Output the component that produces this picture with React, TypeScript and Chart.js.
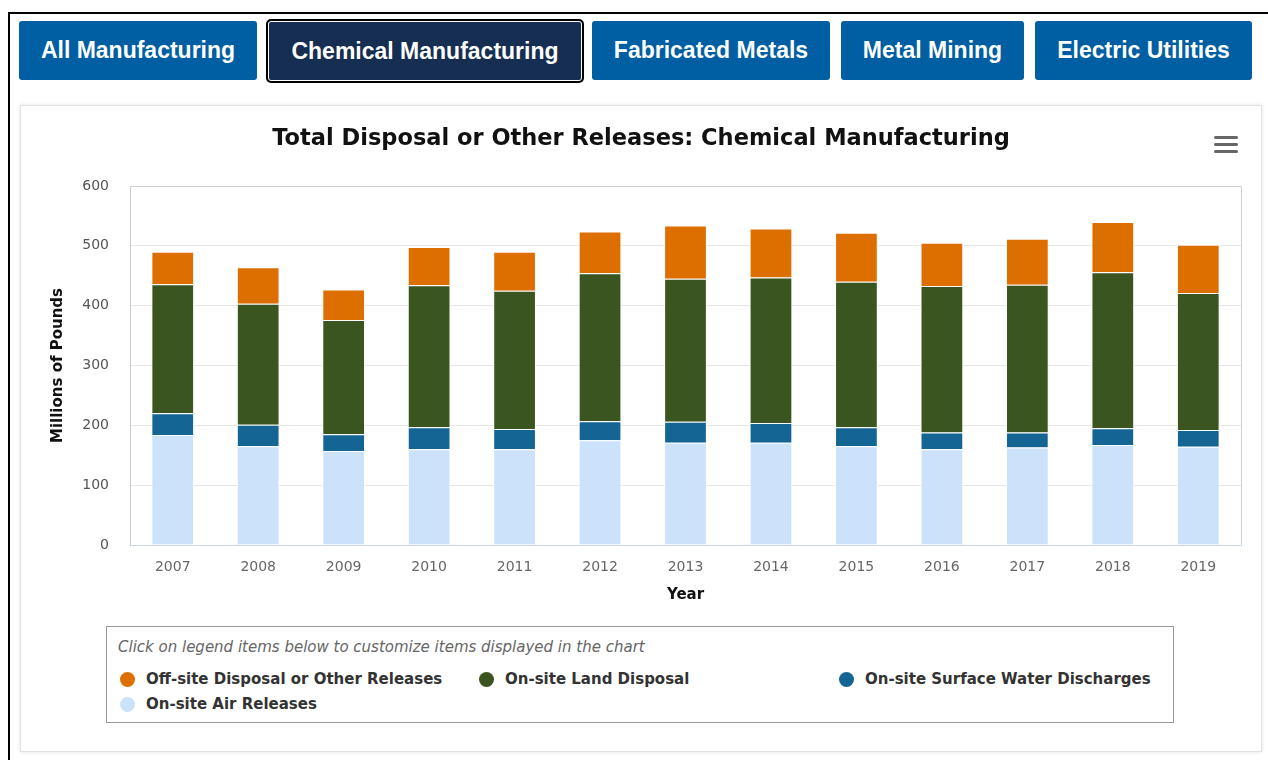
import React, { useEffect, useRef } from "react";
import { Chart, registerables } from "chart.js";

Chart.register(...registerables);

const years = ["2007", "2008", "2009", "2010", "2011", "2012", "2013", "2014", "2015", "2016", "2017", "2018", "2019"];
const offSiteDisposal = [54, 61, 51, 64, 65, 70, 89, 82, 82, 72, 77, 84, 81];
const onSiteLandDisposal = [216, 202, 191, 237, 231, 247, 239, 243, 243, 245, 247, 261, 229];
const onSiteSurfaceWater = [36, 36, 28, 37, 34, 32, 35, 33, 32, 28, 25, 28, 28];
const onSiteAirReleases = [184, 165, 157, 160, 160, 175, 171, 171, 165, 160, 163, 167, 164];

const seriesNames = [
  "Off-site Disposal or Other Releases",
  "On-site Land Disposal",
  "On-site Surface Water Discharges",
  "On-site Air Releases",
];
const seriesColors = ["#dd6e00", "#3a5520", "#146494", "#cbe2fa"];
const seriesData = [offSiteDisposal, onSiteLandDisposal, onSiteSurfaceWater, onSiteAirReleases];

const buttons = [
  { label: "All Manufacturing", left: 19, width: 238, selected: false },
  { label: "Chemical Manufacturing", left: 266, width: 318, selected: true },
  { label: "Fabricated Metals", left: 592, width: 238, selected: false },
  { label: "Metal Mining", left: 841, width: 183, selected: false },
  { label: "Electric Utilities", left: 1035, width: 217, selected: false },
];

const TICK_FONT = "'DejaVu Sans', sans-serif";

const plotBorder = {
  id: "plotBorder",
  beforeDatasetsDraw(chart: any) {
    const { ctx, chartArea } = chart;
    ctx.save();
    ctx.strokeStyle = "#d0d0d0";
    ctx.lineWidth = 1;
    ctx.beginPath();
    ctx.moveTo(chartArea.left, chartArea.top + 0.5);
    ctx.lineTo(chartArea.right + 0.5, chartArea.top + 0.5);
    ctx.lineTo(chartArea.right + 0.5, chartArea.bottom);
    ctx.stroke();
    ctx.restore();
  },
};

export default function App() {
  const canvasRef = useRef<HTMLCanvasElement | null>(null);

  useEffect(() => {
    if (!canvasRef.current) return;
    // stack bottom-to-top: air, water, land, off-site
    const order = [3, 2, 1, 0];
    const chart = new Chart(canvasRef.current, {
      type: "bar",
      data: {
        labels: years,
        datasets: order.map((i) => ({
          label: seriesNames[i],
          data: seriesData[i],
          backgroundColor: seriesColors[i],
          borderColor: "#ffffff",
          borderWidth: 1,
          categoryPercentage: 1,
          barPercentage: 0.5,
        })),
      },
      options: {
        responsive: false,
        animation: false,
        layout: { padding: { left: 20, right: 20, top: 0, bottom: 0 } },
        plugins: {
          legend: { display: false },
          tooltip: { enabled: false },
          title: {
            display: true,
            text: "Total Disposal or Other Releases: Chemical Manufacturing",
            color: "#111",
            font: { family: TICK_FONT, size: 22.5, weight: "bold" },
            padding: { top: 20, bottom: 33 },
          },
        },
        scales: {
          x: {
            stacked: true,
            grid: { display: false, drawTicks: false },
            border: { display: true, color: "#ccd6eb", width: 1 },
            ticks: { color: "#666", font: { family: TICK_FONT, size: 14 }, padding: 14 },
            title: {
              display: true,
              text: "Year",
              color: "#111",
              font: { family: TICK_FONT, size: 15, weight: "bold" },
              padding: { top: 0, bottom: 7 },
            },
            afterFit(scale: any) {
              scale.height = 66;
            },
          },
          y: {
            stacked: true,
            min: 0,
            max: 600,
            ticks: { stepSize: 100, color: "#555", font: { family: TICK_FONT, size: 14 }, padding: 21 },
            grid: { color: "#e6e6e6", drawTicks: false },
            border: { display: true, color: "#cccccc", width: 1 },
            title: {
              display: true,
              text: "Millions of Pounds",
              color: "#111",
              font: { family: TICK_FONT, size: 15, weight: "bold" },
              padding: { top: 8, bottom: 0 },
            },
            afterFit(scale: any) {
              scale.width = 89;
            },
          },
        },
      },
      plugins: [plotBorder],
    });
    return () => chart.destroy();
  }, []);

  const legendOrder = [0, 1, 2, 3];
  const legendPos = [
    { x: 0, y: 0 },
    { x: 359, y: 0 },
    { x: 719, y: 0 },
    { x: 0, y: 25 },
  ];

  return (
    <div style={{ position: "fixed", inset: 0, overflow: "hidden", background: "#fff" }}>
      <div
        style={{
          position: "absolute",
          left: 8,
          top: 12,
          width: 1400,
          height: 900,
          borderTop: "2px solid #000",
          borderLeft: "2px solid #000",
        }}
      />
      {buttons.map((b) => (
        <div
          key={b.label}
          style={{
            position: "absolute",
            left: b.left,
            top: b.selected ? 19 : 21,
            width: b.width,
            height: b.selected ? 64 : 59,
            boxSizing: "border-box",
            background: b.selected ? "#162e51" : "#005ea2",
            border: b.selected ? "2px solid #000" : "none",
            boxShadow: b.selected ? "inset 0 0 0 1px #fff" : "none",
            borderRadius: b.selected ? 5 : 3,
            color: "#fff",
            fontFamily: "'Liberation Sans', Arial, sans-serif",
            fontWeight: "bold",
            fontSize: 23,
            display: "flex",
            alignItems: "center",
            justifyContent: "center",
          }}
        >
          {b.label}
        </div>
      ))}
      <div
        style={{
          position: "absolute",
          left: 20,
          top: 105,
          width: 1242,
          height: 647,
          boxSizing: "border-box",
          border: "1px solid #e2e2e2",
          boxShadow: "0 0 4px rgba(0,0,0,0.12)",
          background: "#fff",
        }}
      >
        <canvas ref={canvasRef} width={1240} height={505} style={{ position: "absolute", left: 0, top: 0 }} />
        <div style={{ position: "absolute", left: 1193, top: 30, width: 24, height: 17 }}>
          {[0, 7, 14].map((t) => (
            <div
              key={t}
              style={{ position: "absolute", left: 0, top: t, width: 24, height: 3, borderRadius: 2, background: "#666" }}
            />
          ))}
        </div>
        <div
          style={{
            position: "absolute",
            left: 85,
            top: 520,
            width: 1068,
            height: 97,
            boxSizing: "border-box",
            border: "1px solid #999",
            fontFamily: TICK_FONT,
          }}
        >
          <div
            style={{
              position: "absolute",
              left: 11,
              top: 11,
              fontStyle: "italic",
              fontSize: 15,
              color: "#666",
              whiteSpace: "nowrap",
            }}
          >
            Click on legend items below to customize items displayed in the chart
          </div>
          {legendOrder.map((i, k) => (
            <div
              key={seriesNames[i]}
              style={{
                position: "absolute",
                left: 13 + legendPos[k].x,
                top: 43 + legendPos[k].y,
                display: "flex",
                alignItems: "center",
                whiteSpace: "nowrap",
              }}
            >
              <span
                style={{
                  display: "inline-block",
                  width: 15,
                  height: 15,
                  borderRadius: "50%",
                  background: seriesColors[i],
                  marginRight: 11,
                }}
              />
              <span style={{ fontWeight: "bold", fontSize: 15, color: "#333" }}>{seriesNames[i]}</span>
            </div>
          ))}
        </div>
      </div>
    </div>
  );
}
